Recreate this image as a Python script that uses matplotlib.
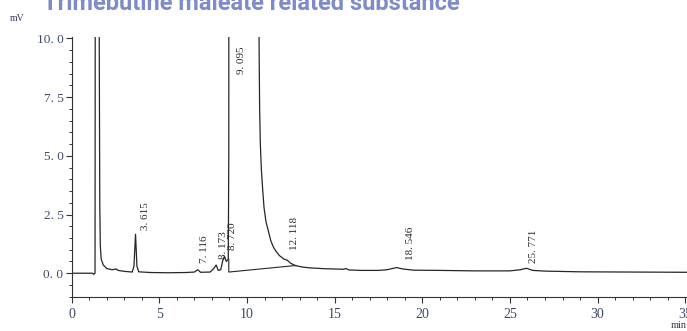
import matplotlib.pyplot as plt
from matplotlib.ticker import MultipleLocator, FuncFormatter

# chromatogram trace (min, mV); off-scale parts are estimates
trace_t = [0.0, 1.20, 1.26, 1.33, 1.37, 1.45, 1.54, 1.57, 1.60, 1.63, 1.68, 1.80,
           2.00, 2.30, 2.55, 2.65, 3.00, 3.45, 3.55, 3.64, 3.72, 3.82, 4.50, 5.50,
           6.50, 7.00, 7.19, 7.35, 7.90, 8.10, 8.24, 8.36, 8.50, 8.62, 8.71, 8.82,
           8.93, 8.96, 8.99, 9.10, 10.50, 10.68, 10.72, 10.76, 10.82, 10.90, 10.97,
           11.08, 11.20, 11.35, 11.50, 11.64, 11.85, 12.11, 12.30, 12.50, 12.78,
           13.20, 13.54, 14.50, 15.50, 15.65, 15.80, 16.50, 17.50, 18.00, 18.53,
           18.90, 19.50, 21.00, 23.00, 25.00, 25.60, 25.95, 26.30, 27.00, 29.00,
           32.00, 35.10]
trace_mv = [0.0, 0.0, -0.05, 0.0, 40.0, 60.0, 40.0, 10.0, 3.0, 1.2, 0.6, 0.35,
            0.2, 0.15, 0.18, 0.12, 0.08, 0.05, 0.3, 1.66, 0.3, 0.06, 0.03, 0.02,
            0.03, 0.05, 0.15, 0.04, 0.05, 0.2, 0.35, 0.12, 0.15, 0.55, 0.72, 0.5,
            0.6, 5.0, 60.0, 200.0, 60.0, 10.5, 7.0, 5.5, 4.4, 3.5, 2.8,
            2.2, 1.85, 1.4, 1.12, 0.95, 0.75, 0.6, 0.55, 0.42, 0.32,
            0.26, 0.23, 0.19, 0.17, 0.2, 0.14, 0.12, 0.12, 0.15, 0.24,
            0.18, 0.13, 0.12, 0.1, 0.1, 0.15, 0.21, 0.12, 0.09, 0.06,
            0.05, 0.04]

# integration baseline under the main peak
base_t = [8.96, 8.96, 12.80]
base_mv = [0.6, 0.05, 0.33]

# peak retention times (labels)
peak_rt = [3.615, 7.116, 8.173, 8.720, 9.095, 12.118, 18.546, 25.771]

# where the labels sit (min, mV at text bottom)
label_x = [4.20, 7.58, 8.63, 9.17, 9.67, 12.70, 19.33, 26.33]
label_y = [1.84, 0.45, 0.62, 1.00, 8.50, 1.00, 0.57, 0.43]

serif = 'Liberation Serif'
tick_color = '#3f4a62'

fig = plt.figure(figsize=(6.87, 3.31), dpi=100)
ax = fig.add_axes([0.1044, 0.1036, 0.8956, 0.7854])

ax.plot(trace_t, trace_mv, color='#262626', lw=0.9, clip_on=True)
ax.plot(base_t, base_mv, color='#262626', lw=0.8)

for rt, lx, ly in zip(peak_rt, label_x, label_y):
    txt = '%.3f' % rt
    txt = txt.replace('.', '. ')
    ax.text(lx, ly, txt, rotation=90, ha='center', va='bottom',
            family=serif, fontsize=8, color='#2b2b2b')

ax.set_xlim(0, 35.1)
ax.set_ylim(-1.0, 10.07)

ax.xaxis.set_major_locator(MultipleLocator(5))
ax.xaxis.set_minor_locator(MultipleLocator(1))
ax.yaxis.set_major_locator(MultipleLocator(2.5))
ax.yaxis.set_minor_locator(MultipleLocator(0.5))
ax.yaxis.set_major_formatter(FuncFormatter(lambda v, p: ('%.1f' % v).replace('.', '. ')))

ax.tick_params(which='major', direction='out', length=4, width=0.8, color='#333333', pad=2)
ax.tick_params(which='minor', direction='out', length=2.5, width=0.7, color='#333333')
ax.tick_params(axis='x', which='major', pad=4)
for lab in ax.get_xticklabels():
    lab.set_family(serif)
    lab.set_fontsize(10)
    lab.set_color(tick_color)
for lab in ax.get_yticklabels():
    lab.set_family(serif)
    lab.set_fontsize(9.5)
    lab.set_color(tick_color)

ax.spines['top'].set_visible(False)
ax.spines['right'].set_visible(False)
ax.spines['left'].set_color('#333333')
ax.spines['bottom'].set_color('#333333')

# axis unit labels
fig.text(0.015, 0.945, 'mV', family=serif, fontsize=7, color='#2f3a55', ha='left', va='center')
fig.text(0.999, 0.018, 'min', family=serif, fontsize=7.5, color='#2f3a55', ha='right', va='center')

# title (cut off at the top in the original)
fig.text(0.063, 0.969, 'Trimebutine maleate related substance', family='Roboto',
         fontweight='bold', fontsize=17, color='#7d8bc8', ha='left', va='baseline')

fig.savefig('out.png', dpi=100)
